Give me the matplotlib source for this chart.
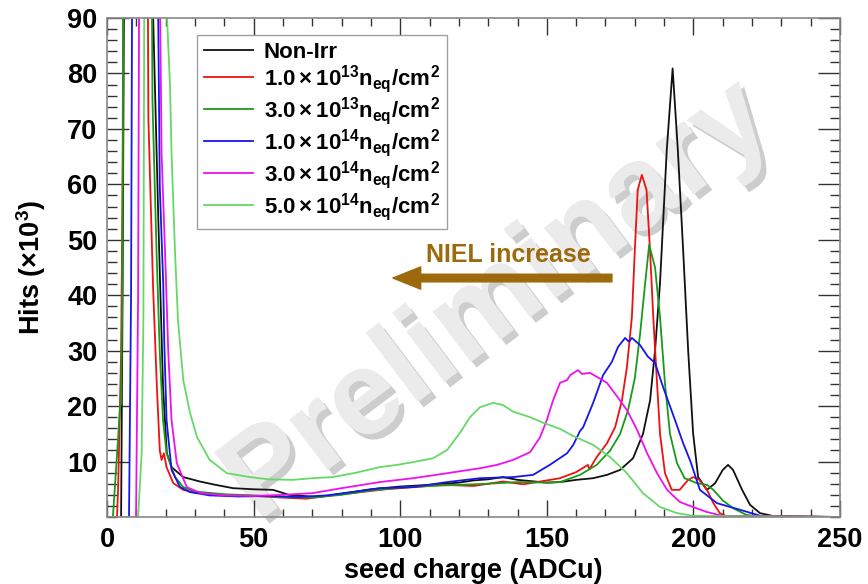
import numpy as np
import matplotlib
matplotlib.use('Agg')
import matplotlib.pyplot as plt
from matplotlib.ticker import MultipleLocator, FixedLocator
import matplotlib.patheffects as pe

plt.rcParams['font.family'] = ['Liberation Sans', 'DejaVu Sans']
plt.rcParams['font.weight'] = 'bold'
plt.rcParams['mathtext.fontset'] = 'custom'
plt.rcParams['mathtext.rm'] = 'Liberation Sans:bold'
plt.rcParams['mathtext.it'] = 'Liberation Sans:bold'
plt.rcParams['mathtext.bf'] = 'Liberation Sans:bold'

# ---- data (seed charge in ADCu, hits in 10^3) ----
x_nonirr = [0, 4.8, 5.3, 5.8, 6.2, 14.5, 15.5, 17.5, 19.1, 20.4, 22, 26, 31.7, 37, 43, 50, 56.6, 62,
            71.6, 80, 90, 100, 110, 120, 125, 130, 135, 140, 150, 154.5, 160, 165.8, 170.5, 175,
            179.4, 182.8, 185.2, 186.9, 188.6, 190.9, 192.9, 194.7, 196.5, 198.2, 199.9, 201.6,
            204.6, 207.4, 210, 211.8, 213.5, 216.6, 219.3, 222.7, 227, 250]
y_nonirr = [0, 0, 40, 95, 150, 150, 95, 53.6, 23.5, 11.5, 9, 7.2, 6.4, 5.8, 5.2, 5.0, 4.9, 4.0,
            3.6, 4.2, 5.0, 5.5, 5.8, 6.2, 6.6, 6.8, 7.2, 6.7, 6.2, 6.3, 6.7, 7.0, 7.6, 8.5,
            10.6, 15, 21, 30, 42.2, 66.2, 80.9, 66, 48, 30, 15, 7.2,
            4.9, 6.1, 8.5, 9.4, 8.5, 4.9, 2.2, 0.7, 0.2, 0]

x_1e13 = [0, 3.4, 3.8, 4.8, 5.4, 5.8, 13.5, 14.1, 15.7, 17, 18, 18.6, 19.4, 20.3, 22.6, 26, 30, 40,
          50, 60, 68, 75, 85, 95, 105, 115, 125, 135, 142, 150, 154.5, 160, 164, 164.5, 167, 170.5,
          173.3, 175.6, 177.3, 179, 180, 181, 182.4, 184, 185.2, 186.3, 187.6, 188.6, 190.3,
          192.6, 195.3, 198.2, 200, 202, 204.6, 206.8, 209, 211, 250]
y_1e13 = [0, 0, 5.4, 29.6, 65.6, 150, 150, 72, 41.5, 23.5, 12, 10.3, 11.5, 9, 6.1, 4.9, 4.4, 4.0,
          3.8, 3.5, 3.3, 3.8, 4.4, 5.0, 5.4, 5.8, 5.6, 6.4, 5.9, 6.6, 7.0, 8.1, 9.4, 8.6, 10.8, 13.3,
          16.2, 21, 27, 36, 48, 59, 61.7, 59, 48, 36, 24, 15, 7.9,
          4.9, 4.9, 6.7, 7.2, 6.7, 4.9, 2.5, 0.7, 0.2, 0]

x_3e13 = [0, 2, 3.8, 4.4, 4.8, 5.2, 5.8, 14.7, 15.5, 16.9, 18, 19.1, 20.3, 23.2, 26, 30, 40, 50,
          60, 70, 80, 90, 100, 110, 120, 130, 140, 150, 154.5, 161.3, 167, 171.6, 175, 177.7,
          180, 181.8, 183.5, 184.9, 186.9, 188.6, 190.3, 192, 194.4, 197, 201.2, 204.6, 206.8,
          210, 213.5, 218, 222, 250]
y_3e13 = [0, 0, 14.4, 19.8, 20.5, 40, 150, 150, 75, 47.6, 29.6, 17.5, 11.5, 7.2, 5.4, 4.6, 4.1, 3.9,
          3.6, 3.5, 4.0, 4.8, 5.3, 5.6, 5.8, 6.0, 6.3, 6.2, 6.3, 7.6, 9.4, 12, 15, 19.3,
          25, 33, 42, 49.1, 45, 36, 24, 15, 9.7, 7, 6.1, 5.8, 4.9,
          3, 1.6, 0.4, 0.1, 0]

x_1e14 = [0, 7.5, 8.2, 8.9, 16.4, 18, 19.2, 19.5, 20.3, 22, 24.9, 28.3, 35, 45, 55, 65, 75, 85,
          93, 104.4, 116, 127.2, 138.5, 145.3, 151, 156.9, 159, 161.3, 162.4, 165.8, 169.2, 172.2,
          174.3, 176.7, 178, 179, 181.8, 184.5, 186.9, 189.6, 193.7, 196.5, 199, 202.2, 208,
          215.9, 221.7, 224, 250]
y_1e14 = [0, 0, 40, 150, 150, 59.5, 41.5, 32, 17.5, 8.5, 5.4, 4.5, 3.9, 3.7, 3.8, 3.6, 3.9, 4.6,
          5.2, 5.4, 6.3, 7.0, 7.2, 7.6, 9.4, 11.5, 13, 15.5, 16.2, 20.6, 25.6, 28,
          30.7, 32.3, 31.6, 32.3, 31, 28.9, 27.8, 23.5, 17.5, 13.3, 10, 4.9, 2.5,
          1.3, 0.4, 0, 0]

x_3e14 = [0, 9.9, 10.6, 11.3, 17, 18.6, 19.8, 20.9, 22, 23.8, 27.2, 32, 40, 50, 60, 70, 80, 93,
          104.4, 116, 127.2, 133, 138.5, 144.3, 147.7, 150, 152.1, 154.5, 156.9, 158, 160.6, 162,
          164.7, 167, 170.5, 174.3, 177.3, 180.8, 184.2, 187.6, 191, 195.4, 199.9, 204.6, 210, 250]
y_3e14 = [0, 0, 40, 150, 150, 65.6, 47.6, 29.6, 17.5, 9.7, 5.4, 4.3, 3.9, 3.8, 4.0, 4.3, 5.2, 6.3,
          7.0, 7.9, 8.8, 9.4, 10.3, 11.7, 14.4, 17.5, 21, 24.2, 24.7, 25.6, 26.5, 25.8,
          26, 25.3, 24.2, 21.5, 19.3, 15.7, 11.5, 7.9, 4.9, 2.7, 1.8, 0.9, 0.2, 0]

x_5e14 = [0, 10.6, 11.8, 12.4, 13, 18.5, 20.5, 21.5, 22, 23.2, 24.2, 26, 28.3, 30.7, 35, 40.9, 48.8,
          55, 63.4, 70, 77, 85, 93, 98.9, 104.4, 111.2, 116, 120.4, 123.8, 127.2, 131.7, 135,
          138.5, 144.3, 148.7, 154.5, 159, 165.8, 171.6, 177.3, 182.8, 188.6, 194.4, 200, 250]
y_5e14 = [0, 0, 11.5, 35.5, 150, 150, 89.6, 77.6, 65.6, 47.6, 35.5, 24.7, 18.8, 14.4, 10.3, 7.9, 7.2,
          6.8, 6.7, 7.0, 7.2, 8.0, 9.0, 9.4, 9.9, 10.6, 12.1, 15.2, 18, 19.8, 20.6, 20.2,
          19, 18, 17, 15.9, 14.6, 13, 10.8, 7.9, 4.3, 1.8, 0.7, 0.2, 0]

series = [
    (x_nonirr, y_nonirr, 'Non-Irr', '#111111'),
    (x_1e13, y_1e13, r'$1.0\times10^{13}n_{eq}/cm^{2}$', '#ee1111'),
    (x_3e13, y_3e13, r'$3.0\times10^{13}n_{eq}/cm^{2}$', '#1a9a1a'),
    (x_1e14, y_1e14, r'$1.0\times10^{14}n_{eq}/cm^{2}$', '#1515ee'),
    (x_3e14, y_3e14, r'$3.0\times10^{14}n_{eq}/cm^{2}$', '#ee11ee'),
    (x_5e14, y_5e14, r'$5.0\times10^{14}n_{eq}/cm^{2}$', '#66d866'),
]

fig = plt.figure(figsize=(8.68, 5.84), dpi=100)
ax = fig.add_axes([0.1233, 0.1147, 0.8445, 0.8545])

# watermark
ax.text(0.535, 0.43, 'Preliminary', transform=ax.transAxes, fontsize=86, fontweight='bold',
        color='#ebebeb', rotation=37, ha='center', va='center', zorder=0.5,
        path_effects=[pe.withSimplePatchShadow(offset=(4, -4), shadow_rgbFace='#cdcdcd', alpha=1.0),
                      pe.Normal()])

for xs, ys, lab, col in series:
    ax.plot(xs, ys, color=col, lw=1.3, label=lab, zorder=2)

ax.set_xlim(0, 250)
ax.set_ylim(0, 90)

ax.xaxis.set_major_locator(MultipleLocator(50))
ax.xaxis.set_minor_locator(MultipleLocator(10))
ax.yaxis.set_major_locator(FixedLocator([10, 20, 30, 40, 50, 60, 70, 80, 90]))
ax.yaxis.set_minor_locator(MultipleLocator(2))
ax.tick_params(which='both', direction='in', top=True, right=True, colors='#333333',
               labelsize=19.5, pad=7)
ax.tick_params(axis='y', which='major', length=16, width=1.0)
ax.tick_params(axis='y', which='minor', length=7, width=1.0)
ax.tick_params(axis='x', which='major', length=12, width=1.0)
ax.tick_params(axis='x', which='minor', length=6, width=1.0)
ax.tick_params(labelcolor='black')
for lbl in ax.get_xticklabels() + ax.get_yticklabels():
    lbl.set_fontweight('bold')
for sp in ax.spines.values():
    sp.set_color('#888888')
    sp.set_linewidth(1.2)

ax.set_xlabel('seed charge (ADCu)', fontsize=19.5, fontweight='bold', labelpad=4)
ax.set_ylabel(r'Hits ($\times$10$^{3}$)', fontsize=19.5, fontweight='bold', labelpad=14)

# NIEL arrow
brown = '#9c6a0c'
ax.annotate('', xy=(97.5, 43.1), xytext=(172.2, 43.1),
            arrowprops=dict(width=5.5, headwidth=16, headlength=20, color=brown, shrink=0))
ax.text(136.8, 47.2, 'NIEL increase', color=brown, fontsize=18, fontweight='bold',
        ha='center', va='center')

leg = ax.legend(loc='upper left', bbox_to_anchor=(0.123, 0.966), borderaxespad=0,
                fontsize=16, frameon=True, fancybox=False, handlelength=2.2,
                handletextpad=0.5, labelspacing=0.0, borderpad=0.3)
leg.get_frame().set_edgecolor('#888888')
leg.get_frame().set_linewidth(1.0)
for t in leg.get_texts():
    t.set_fontweight('bold')

fig.savefig('out.png', dpi=100)
